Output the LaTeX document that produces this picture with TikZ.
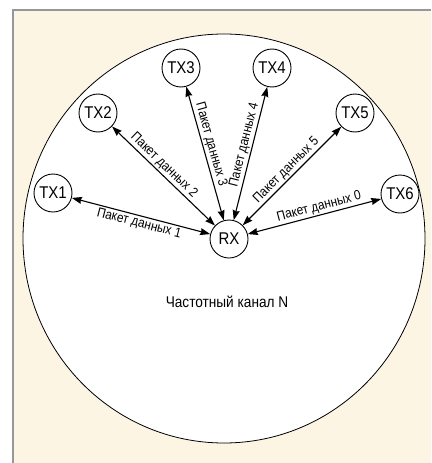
\documentclass[tikz,border=0pt]{standalone}
\usepackage{fontspec}
\setmainfont{Liberation Sans}[FakeStretch=0.88]
\usetikzlibrary{arrows.meta, positioning}
\definecolor{bgCream}{RGB}{253,245,228}
\definecolor{frameGray}{RGB}{150,150,156}
\tikzset{
  station/.style={draw, circle, fill=white, minimum size=38pt, inner sep=0pt, line width=0.9pt, font=\fontsize{17}{18}\selectfont},
  link/.style={<->, line width=1.1pt},
  packet/.style={sloped, inner sep=1.5pt, font=\fontsize{13.5}{14}\selectfont}
}

\begin{document}
\begin{tikzpicture}[x=1pt, y=-1pt, >={Stealth[length=10pt, width=7pt, inset=1pt]}]
    \useasboundingbox (0,0) rectangle (431,463);
    \fill[bgCream] (13,10) rectangle (431,463);
    \draw[frameGray, line width=2.5pt] (13,463) -- (13,10) -- (431,10);

    % channel area
    \filldraw[fill=white, line width=0.8pt] (224,238.5) ellipse [x radius=201, y radius=204.5];
    \node (channel) at (227,302) {\fontsize{15.5}{16}\selectfont Частотный канал N};

    \node[station] (RX)  at (229,239) {RX};
    \node[station] (TX1) at (53,193)  {TX1};
    \node[station] (TX2) at (98,113)  {TX2};
    \node[station] (TX3) at (181,68)  {TX3};
    \node[station] (TX4) at (272,68)  {TX4};
    \node[station] (TX5) at (355,113) {TX5};
    \node[station] (TX6) at (400,194) {TX6};

    \draw[link] (TX1) -- node[packet, pos=0.5, below] {Пакет данных 1} (RX);
    \draw[link] (TX2) -- node[packet, pos=0.45, above] {Пакет данных 2} (RX);
    \draw[link] (TX3) -- node[packet, pos=0.45, above] {Пакет данных 3} (RX);
    \draw[link] (RX) -- node[packet, pos=0.55, above] {Пакет данных 4} (TX4);
    \draw[link] (RX) -- node[packet, pos=0.5, above] {Пакет данных 5} (TX5);
    \draw[link] (RX) -- node[packet, pos=0.55, above] {Пакет данных 0} (TX6);
\end{tikzpicture}
\end{document}
